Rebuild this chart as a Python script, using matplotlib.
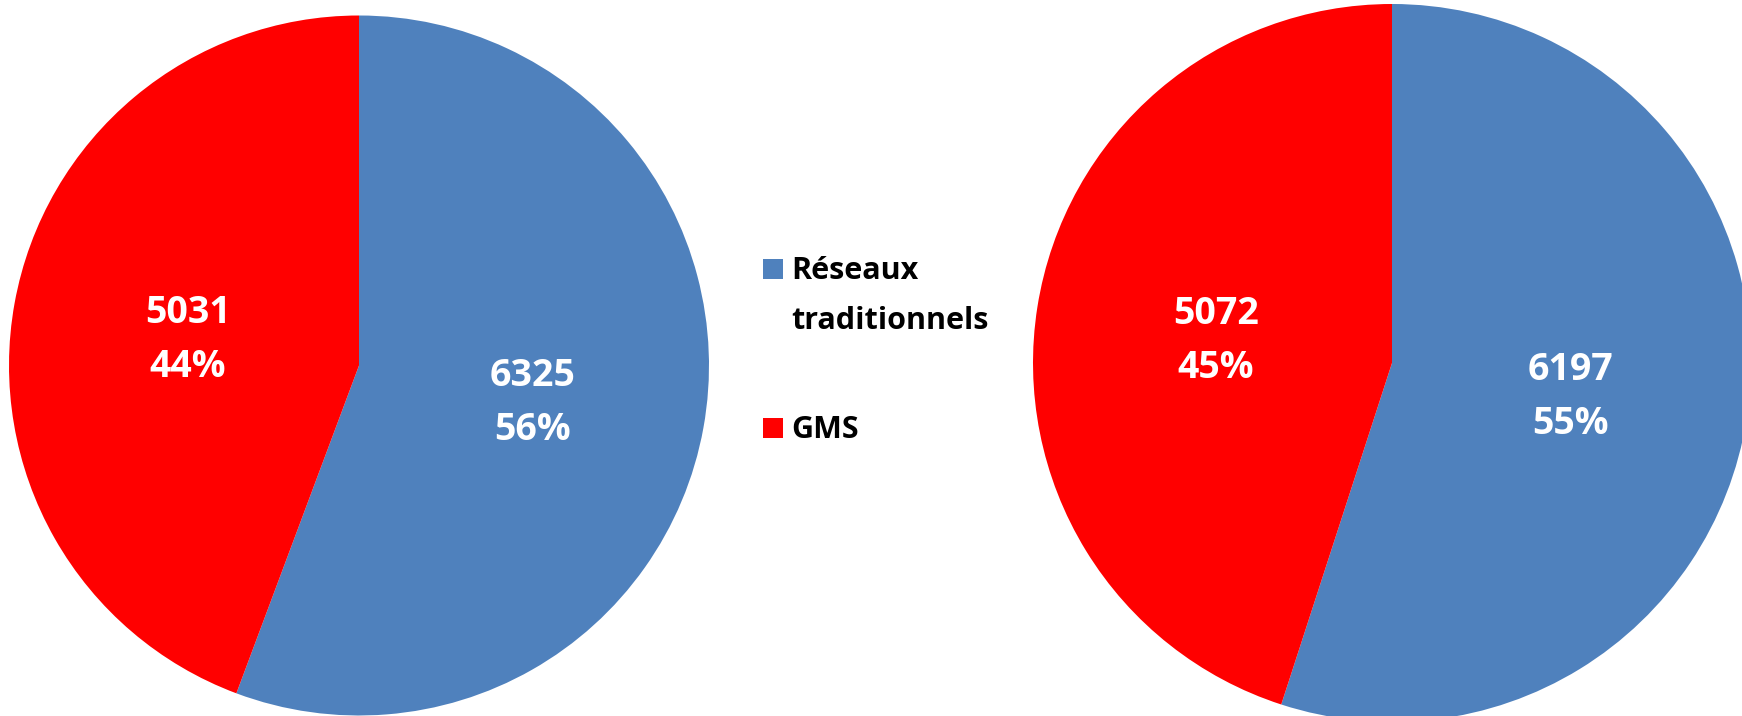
import matplotlib
matplotlib.use('Agg')
import matplotlib.pyplot as plt
from matplotlib.patches import Rectangle
from matplotlib.transforms import offset_copy

# Data
categories = ['Réseaux\ntraditionnels', 'GMS']
left_values = [6325, 5031]
right_values = [6197, 5072]
colors = ['#4F81BD', '#FF0000']

plt.rcParams['font.family'] = ['Open Sans', 'DejaVu Sans']

W, H = 1742, 716
fig = plt.figure(figsize=(W / 100, H / 100), dpi=100)


def draw_pie(rect, values):
    ax = fig.add_axes(rect)
    total = sum(values)

    def fmt(pct):
        v = int(round(pct * total / 100.0))
        return '{}\n{:.0f}%'.format(v, pct)

    wedges, texts, autotexts = ax.pie(
        values, colors=colors, startangle=90, counterclock=False,
        autopct=fmt, pctdistance=0.5, radius=1,
        wedgeprops=dict(linewidth=0),
        textprops=dict(color='white', fontsize=27, fontweight='bold',
                       linespacing=1.55))
    for w in wedges:
        w.set_clip_on(False)
    # labels sit a little lower than the plain mid-angle position
    for t in autotexts:
        t.set_transform(offset_copy(ax.transData, fig=fig, x=1, y=-6, units='dots'))
    ax.set_xlim(-1, 1)
    ax.set_ylim(-1, 1)
    ax.set_aspect('equal')
    ax.axis('off')
    return ax


# left pie: centre (359, 365.5) px, radius 350 px
draw_pie([9 / W, (H - 365.5 - 350) / H, 700 / W, 700 / H], left_values)
# right pie: centre (1392, 363) px, radius 359 px
draw_pie([1033 / W, (H - 363 - 359) / H, 718 / W, 718 / H], right_values)

# legend in the middle
legend_tops = [256, 415]
for label, col, top in zip(categories, colors, legend_tops):
    fig.patches.append(Rectangle((763 / W, (H - top - 23) / H), 20 / W, 20 / H,
                                 transform=fig.transFigure, facecolor=col,
                                 edgecolor='none'))
    fig.text(791 / W, (H - top) / H, label, fontsize=22, fontweight='bold',
             color='black', ha='left', va='top', linespacing=1.85)

fig.savefig('out.png', dpi=100, facecolor='white')
